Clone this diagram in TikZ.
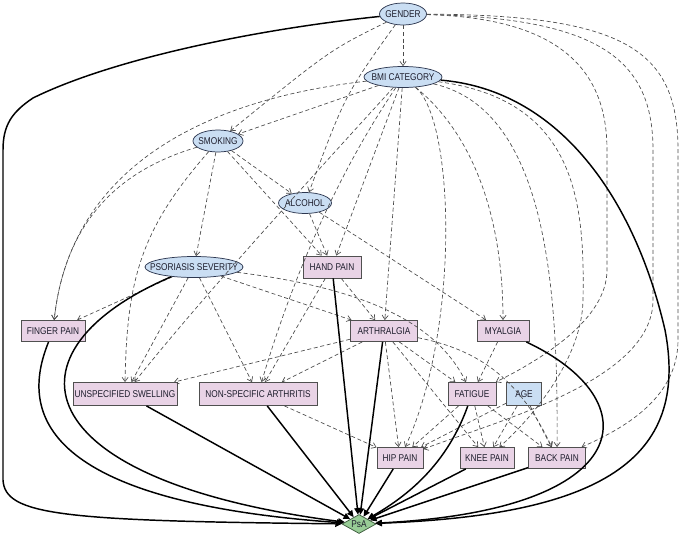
\documentclass[tikz,border=0pt]{standalone}
\usepackage{fontspec}
\setmainfont{Liberation Sans}[FakeStretch=0.84]
\usetikzlibrary{arrows.meta,shapes.geometric}
\definecolor{ellfill}{RGB}{202,222,243}
\definecolor{elldraw}{RGB}{45,55,80}
\definecolor{boxfill}{RGB}{233,211,230}
\definecolor{boxdraw}{RGB}{80,80,80}
\definecolor{psafill}{RGB}{152,204,150}
\definecolor{psadraw}{RGB}{60,90,60}
\definecolor{txt}{RGB}{30,30,45}
\definecolor{dline}{RGB}{75,75,75}
\newcommand\nlab[1]{\makebox[0pt][c]{#1}}
\tikzset{
  base/.style n args={2}{inner sep=0pt, minimum width=#1*0.75pt, minimum height=#2*0.75pt,
     font=\fontsize{7.4pt}{8pt}\selectfont, text=txt},
  ell/.style n args={2}{base={#1}{#2}, ellipse, draw=elldraw, fill=ellfill, line width=0.55pt},
  box/.style n args={2}{base={#1}{#2}, rectangle, draw=boxdraw, fill=boxfill, line width=0.65pt},
  abox/.style n args={2}{base={#1}{#2}, rectangle, draw=boxdraw, fill=ellfill, line width=0.65pt},
  dia/.style={base={34}{19}, diamond, draw=psadraw, fill=psafill, line width=0.55pt},
  dep/.style={draw=dline, line width=0.5pt, dash pattern=on 3pt off 2pt,
     -{Straight Barb[length=3.2pt,width=4.6pt]}},
  cause/.style={draw=black, line width=1.1pt, -{Triangle[length=5pt,width=4.6pt]}}
}
\begin{document}
\begin{tikzpicture}[x=0.75pt,y=-0.75pt]
\useasboundingbox (0,0) rectangle (682,536);
\fill[white] (0,0) rectangle (682,536);
% nodes
\node[ell={47}{22}] (gender) at (403,14) {\nlab{GENDER}};
\node[ell={78}{21}] (bmi) at (403,77) {\nlab{BMI CATEGORY}};
\node[ell={50}{22}] (smoking) at (218,141) {\nlab{SMOKING}};
\node[ell={53}{21}] (alcohol) at (305,203) {\nlab{ALCOHOL}};
\node[ell={98}{21}] (psor) at (194,267) {\nlab{PSORIASIS SEVERITY}};
\node[box={58}{22}] (hand) at (332,267) {\nlab{HAND PAIN}};
\node[box={64}{21}] (finger) at (53,331) {\nlab{FINGER PAIN}};
\node[box={67}{21}] (arth) at (384,331) {\nlab{ARTHRALGIA}};
\node[box={52}{21}] (myal) at (503,331) {\nlab{MYALGIA}};
\node[box={104}{23}] (unspec) at (125,394) {\nlab{UNSPECIFIED SWELLING}};
\node[box={118}{23}] (nonspec) at (258,394) {\nlab{NON-SPECIFIC ARTHRITIS}};
\node[box={48}{23}] (fatigue) at (472,394) {\nlab{FATIGUE}};
\node[abox={35}{23}] (age) at (524,394) {\nlab{AGE}};
\node[box={46}{21}] (hip) at (400,458) {\nlab{HIP PAIN}};
\node[box={54}{21}] (knee) at (487,458) {\nlab{KNEE PAIN}};
\node[box={57}{21}] (back) at (557,458) {\nlab{BACK PAIN}};
\node[dia] (psa) at (359,524) {\nlab{PsA}};
% dashed dependencies
\draw[dep] (gender) -- (bmi);
\draw[dep] (gender) .. controls (330,50) .. (smoking);
\draw[dep] (gender) .. controls (345,95) .. (alcohol);
\draw[dep] (bmi) -- (smoking);
\draw[dep] (bmi) .. controls (200,100) and (70,170) .. (finger);
\draw[dep] (smoking) .. controls (120,170) and (65,220) .. (finger);
\draw[dep] (smoking) -- (alcohol);
\draw[dep] (smoking) -- (hand);
\draw[dep] (smoking) -- (psor);
\draw[dep] (smoking) .. controls (140,230) and (127,280) .. (unspec.north);
\draw[dep] (alcohol) -- (hand);
\draw[dep] (alcohol) -- (myal);
\draw[dep] (bmi) -- (hand);
\draw[dep] (bmi) -- (arth);
\draw[dep] (bmi) .. controls (480,140) and (503,230) .. (myal);
\draw[dep] (bmi) .. controls (300,190) and (200,300) .. (unspec);
\draw[dep] (bmi) .. controls (320,200) and (280,320) .. (nonspec);
\draw[dep] (bmi) .. controls (455,120) and (460,330) .. (hip);
\draw[dep] (bmi) .. controls (550,110) and (558,300) .. (back);
\draw[dep] (bmi) .. controls (575,100) and (585,200) .. (583,300) .. controls (582,360) and (530,420) .. (knee);
\draw[dep] (gender) .. controls (560,18) and (607,70) .. (607,150) -- (607,270) .. controls (607,320) and (540,360) .. (fatigue);
\draw[dep] (gender) .. controls (600,18) and (653,60) .. (653,150) -- (653,300) .. controls (653,380) and (500,420) .. (hip);
\draw[dep] (gender) .. controls (625,15) and (678,50) .. (678,150) -- (678,340) .. controls (678,400) and (620,430) .. (back);
\draw[dep] (psor) -- (finger);
\draw[dep] (psor) -- (unspec);
\draw[dep] (psor) -- (nonspec);
\draw[dep] (psor) -- (arth);
\draw[dep] (psor) .. controls (380,290) and (440,330) .. (fatigue);
\draw[dep] (hand) -- (arth);
\draw[dep] (hand) -- (nonspec);
\draw[dep] (arth) -- (unspec);
\draw[dep] (arth) -- (nonspec);
\draw[dep] (arth) -- (fatigue);
\draw[dep] (arth) -- (hip);
\draw[dep] (arth) -- (knee);
\draw[dep] (arth) .. controls (480,350) and (520,380) .. (back);
\draw[dep] (myal) -- (fatigue);
\draw[dep] (fatigue) -- (hip);
\draw[dep] (fatigue) -- (knee);
\draw[dep] (fatigue) -- (back);
\draw[dep] (age) -- (hip);
\draw[dep] (age) -- (knee);
\draw[dep] (age) -- (back);
\draw[dep] (nonspec) -- (hip);
% solid causes of PsA
\draw[cause] (gender) .. controls (250,30) and (110,60) .. (33,98) .. controls (12,112) and (3,125) .. (3,150) -- (3,480) .. controls (5,515) and (60,521) .. (psa);
\draw[cause] (finger) .. controls (25,400) and (20,500) .. (psa);
\draw[cause] (psor) .. controls (0,350) and (20,480) .. (psa);
\draw[cause] (unspec) -- (psa);
\draw[cause] (nonspec) -- (psa);
\draw[cause] (hand) -- (psa);
\draw[cause] (arth) -- (psa);
\draw[cause] (hip) -- (psa);
\draw[cause] (fatigue) .. controls (445,470) and (400,500) .. (psa);
\draw[cause] (knee) -- (psa);
\draw[cause] (back) -- (psa);
\draw[cause] (myal) .. controls (650,400) and (640,510) .. (psa);
\draw[cause] (bmi) .. controls (560,90) and (635,200) .. (665,330) .. controls (690,460) and (600,515) .. (psa);
\end{tikzpicture}
\end{document}
